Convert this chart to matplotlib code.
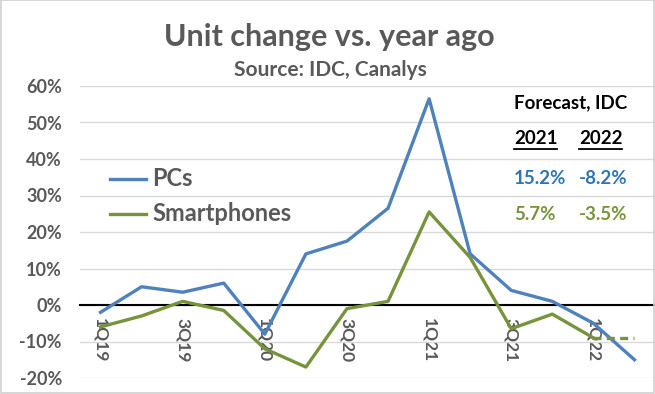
import matplotlib
matplotlib.use("Agg")
import matplotlib.pyplot as plt
from matplotlib.patches import Rectangle

quarters = ["1Q19", "2Q19", "3Q19", "4Q19", "1Q20", "2Q20", "3Q20", "4Q20",
            "1Q21", "2Q21", "3Q21", "4Q21", "1Q22", "2Q22"]
pcs = [-2.0, 5.0, 3.5, 6.0, -8.0, 14.0, 17.5, 26.5, 56.5, 14.0, 4.0, 1.0, -5.0, -15.0]
smartphones = [-6.0, -3.0, 1.0, -1.5, -12.0, -17.0, -1.0, 1.0, 25.5, 13.0, -6.5, -2.5, -9.0]
smartphones_forecast = [-9.0, -9.0]   # 1Q22 -> 2Q22 (dashed)
yticks = [-20, -10, 0, 10, 20, 30, 40, 50, 60]
forecast_years = ["2021", "2022"]
forecast_pcs = ["15.2%", "-8.2%"]
forecast_sp = ["5.7%", "-3.5%"]

BLUE = "#4F81BD"
GREEN = "#77933C"
BLUE_TXT = "#2E75B6"
GREY = "#595959"

plt.rcParams['font.family'] = ['Lato', 'DejaVu Sans']

fig = plt.figure(figsize=(6.55, 3.94), dpi=100)
ax = fig.add_axes([80 / 655, 1 - 378 / 394, (655 - 80) / 655, (378 - 86) / 394])

x = list(range(len(quarters)))
ax.plot(x, pcs, color=BLUE, lw=2.4, zorder=3)
ax.plot(x[:len(smartphones)], smartphones, color=GREEN, lw=2.4, zorder=3)
ax.plot(x[len(smartphones) - 1:], smartphones_forecast, color=GREEN, lw=2.4,
        ls=(0, (2.4, 1.6)), zorder=3)

ax.set_xlim(-0.5, 13.5)
ax.set_ylim(-20, 60)
ax.set_yticks(yticks)
ax.set_yticklabels([f"{v}%" for v in yticks], color=GREY, fontsize=13, fontweight='bold')
ax.tick_params(axis='y', length=0, pad=13)
ax.grid(axis='y', color="#D9D9D9", lw=1)
ax.set_axisbelow(True)

for s in ['top', 'right', 'left']:
    ax.spines[s].set_visible(False)
ax.spines['bottom'].set_position(('data', 0))
ax.spines['bottom'].set_color('black')
ax.spines['bottom'].set_linewidth(1.5)
ax.spines['bottom'].set_zorder(2)
ax.set_xticks(x[::2])
ax.set_xticklabels(quarters[::2], rotation=-90, color=GREY, fontsize=12.5,
                   fontweight='bold', va='top')
ax.tick_params(axis='x', length=0, pad=9)

# Titles
fig.text(329 / 655, 1 - 37 / 394, "Unit change vs. year ago", ha='center', va='center',
         fontsize=22, fontweight='bold', color=GREY)
fig.text(330 / 655, 1 - 70 / 394, "Source: IDC, Canalys", ha='center', va='center',
         fontsize=15, fontweight='bold', color=GREY)

# Legend (manual)
for yy, lab, c in [(179, "PCs", BLUE), (214, "Smartphones", GREEN)]:
    fig.add_artist(plt.Line2D([110 / 655, 146 / 655], [1 - yy / 394] * 2, color=c, lw=2.4))
    fig.text(152 / 655, 1 - yy / 394, lab, ha='left', va='center', fontsize=17,
             fontweight='bold', color=GREY)

# Forecast table
fig.text(514 / 655, 1 - 103 / 394, "Forecast, IDC", ha='left', va='center',
         fontsize=13.5, fontweight='bold', color='black')
for xx, yr in zip([514, 579], forecast_years):
    fig.text(xx / 655, 1 - 139 / 394, yr, ha='left', va='center',
             fontsize=13.5, fontweight='bold', color='black')
    fig.add_artist(plt.Line2D([xx / 655, (xx + 43) / 655], [1 - 149 / 394] * 2,
                              color='black', lw=1.3))
for xx, v in zip([514, 579], forecast_pcs):
    fig.text(xx / 655, 1 - 178 / 394, v, ha='left', va='center',
             fontsize=13.5, fontweight='bold', color=BLUE_TXT)
for xx, v in zip([514, 579], forecast_sp):
    fig.text(xx / 655, 1 - 215 / 394, v, ha='left', va='center',
             fontsize=13.5, fontweight='bold', color=GREEN)

fig.add_artist(Rectangle((0.001, 0.003), 0.998, 0.996, transform=fig.transFigure,
                         fill=False, edgecolor="#D0D0D0", lw=1.2))

fig.savefig("out.png", dpi=100)
